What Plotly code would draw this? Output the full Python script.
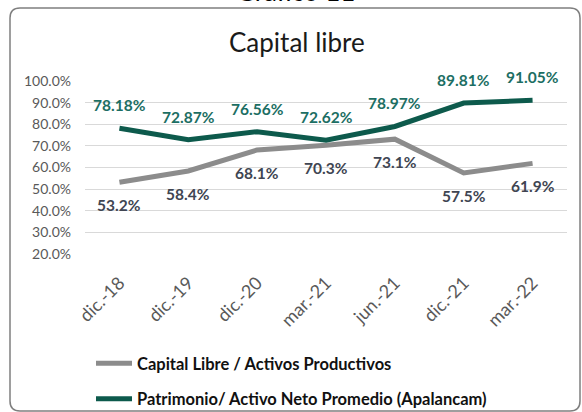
import plotly.graph_objects as go

categories = ["dic.-18", "dic.-19", "dic.-20", "mar.-21", "jun.-21", "dic.-21", "mar.-22"]
capital_libre = [53.2, 58.4, 68.1, 70.3, 73.1, 57.5, 61.9]
patrimonio = [78.18, 72.87, 76.56, 72.62, 78.97, 89.81, 91.05]
tick_vals = [20, 30, 40, 50, 60, 70, 80, 90, 100]
tick_text = [f"{v:.1f}%" for v in tick_vals]

GRAY = "#8c8c8c"
GREEN = "#0d5a4c"
GREEN_TXT = "#1c6e63"
GRAY_TXT = "#404552"
FONT = "Lato"

W, H = 582, 412
L, R, T, B = 85, 15, 81, 158
pw, ph = W - L - R, H - T - B

def px(x):
    return (x - L) / pw

def py(y):
    return (H - B - y) / ph

fig = go.Figure()
fig.add_trace(go.Scatter(
    x=categories, y=capital_libre, mode="lines", name="Capital Libre / Activos Productivos",
    line=dict(color=GRAY, width=5), legendgroup="a"))
fig.add_trace(go.Scatter(
    x=categories, y=patrimonio, mode="lines", name="Patrimonio/ Activo Neto Promedio (Apalancam)",
    line=dict(color=GREEN, width=5), legendgroup="b"))

annotations = []
for c, v in zip(categories, capital_libre):
    annotations.append(dict(x=c, y=v, xref="x", yref="y", text=f"{v:.1f}%", showarrow=False,
                            yshift=-23, font=dict(family=FONT, size=15.5, color=GRAY_TXT, weight="bold")))
for c, v in zip(categories, patrimonio):
    annotations.append(dict(x=c, y=v, xref="x", yref="y", text=f"{v:.2f}%", showarrow=False,
                            yshift=23, font=dict(family=FONT, size=15.5, color=GREEN_TXT, weight="bold")))
annotations.append(dict(x=px(297), y=py(42), xref="paper", yref="paper", text="Capital libre",
                        xanchor="center", yanchor="middle",
                        showarrow=False, font=dict(family=FONT, size=26, color="#1a1a1a")))
annotations.append(dict(x=px(295), y=py(9), xref="paper", yref="paper", text="Gráfico 11",
                        xanchor="center", yanchor="bottom",
                        showarrow=False, font=dict(family=FONT, size=26, color="#000000")))

# rounded border
x0, x1, y0, y1, r = 10, 580, 8, 411, 10
path = (f"M {px(x0+r)},{py(y0)} L {px(x1-r)},{py(y0)} Q {px(x1)},{py(y0)} {px(x1)},{py(y0+r)} "
        f"L {px(x1)},{py(y1-r)} Q {px(x1)},{py(y1)} {px(x1-r)},{py(y1)} "
        f"L {px(x0+r)},{py(y1)} Q {px(x0)},{py(y1)} {px(x0)},{py(y1-r)} "
        f"L {px(x0)},{py(y0+r)} Q {px(x0)},{py(y0)} {px(x0+r)},{py(y0)} Z")

fig.update_layout(
    width=W, height=H,
    margin=dict(l=L, r=R, t=T, b=B, autoexpand=False),
    paper_bgcolor="white", plot_bgcolor="white",
    font=dict(family=FONT),
    showlegend=True,
    legend=dict(x=px(91), y=py(346), xanchor="left", yanchor="top", orientation="v",
                traceorder="grouped", tracegroupgap=11, itemwidth=36,
                font=dict(family=FONT, size=16.5, color="#111111", weight="bold"),
                bgcolor="rgba(0,0,0,0)"),
    xaxis=dict(type="category", range=[-0.5, 6.5], showgrid=False, showline=False, ticks="",
               tickangle=-45, tickfont=dict(family=FONT, size=18, color="#595959"), fixedrange=True,
               automargin=False, ticklabelstandoff=14),
    yaxis=dict(range=[20, 100], tickvals=tick_vals, ticktext=tick_text, showgrid=True,
               gridcolor="#d9d9d9", gridwidth=1, zeroline=False, showline=False, ticks="",
               tickfont=dict(family=FONT, size=14, color="#595959"), fixedrange=True,
               automargin=False, ticklabelstandoff=13),
    annotations=annotations,
    shapes=[dict(type="path", path=path, xref="paper", yref="paper",
                 line=dict(color="#7f7f7f", width=1.5), layer="below")],
)

fig.write_html("out.html", config={"displayModeBar": False},
               post_script="document.body.style.margin='0px';document.body.style.overflow='hidden';")
